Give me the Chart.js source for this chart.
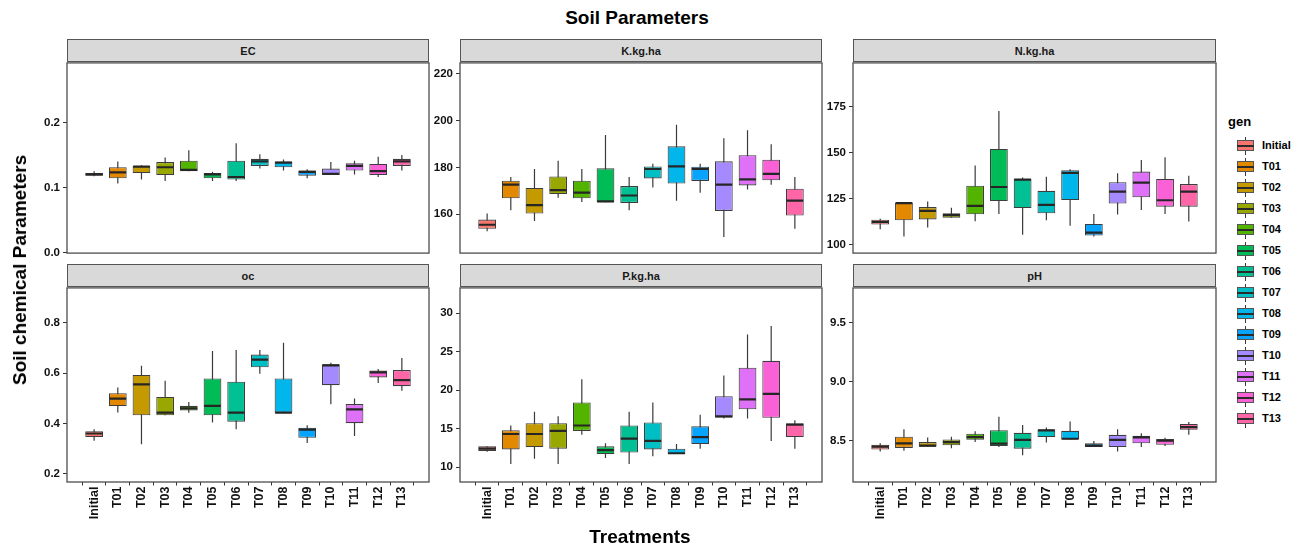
<!DOCTYPE html>
<html><head><meta charset="utf-8">
<script src="https://cdn.jsdelivr.net/npm/chart.js@4.4.0/dist/chart.umd.min.js"></script>
<style>
body{margin:0;background:#fff;}
#wrap{position:relative;width:1303px;height:547px;overflow:hidden;font-family:"Liberation Sans",Arial,sans-serif;background:#fff;}
.strip{position:absolute;background:#d9d9d9;border:1px solid #555;box-sizing:border-box;font-weight:bold;font-size:11px;color:#1a1a1a;display:flex;align-items:center;justify-content:center;z-index:2;}
canvas{position:absolute;z-index:1;}
.txt{position:absolute;font-weight:bold;color:#000;white-space:nowrap;}
.lg{position:absolute;}
</style></head>
<body><div id="wrap"></div>
<script>
const cats = ["Initial","T01","T02","T03","T04","T05","T06","T07","T08","T09","T10","T11","T12","T13"];
const colors = ["#F8766D","#E38900","#C49A00","#99A800","#53B400","#00BC56","#00C094","#00BFC4","#00B6EB","#06A4FF","#A58AFF","#DF70F8","#FB61D7","#FF66A8"];

const EC_lo  = [0.117,0.106,0.112,0.110,0.125,0.110,0.110,0.129,0.126,0.114,0.119,0.120,0.116,0.126];
const EC_q1  = [0.118,0.114,0.122,0.119,0.125,0.114,0.112,0.133,0.131,0.118,0.119,0.126,0.119,0.133];
const EC_med = [0.120,0.123,0.132,0.131,0.127,0.120,0.116,0.140,0.138,0.124,0.121,0.133,0.125,0.140];
const EC_q3  = [0.122,0.131,0.133,0.139,0.141,0.122,0.141,0.144,0.140,0.126,0.129,0.137,0.136,0.144];
const EC_hi  = [0.125,0.140,0.134,0.146,0.157,0.124,0.168,0.151,0.143,0.128,0.139,0.141,0.147,0.150];

const K_lo  = [152.7,161.7,157.1,167.0,165.2,165.1,161.7,171.4,165.8,169.2,150.3,170.5,172.6,153.8];
const K_q1  = [153.8,166.8,160.3,168.6,166.8,165.1,164.8,175.3,173.1,174.2,161.4,172.3,174.5,159.4];
const K_med = [155.5,172.6,163.9,170.3,169.2,165.5,168.0,179.3,180.4,179.3,172.6,174.9,177.2,165.8];
const K_q3  = [157.7,174.3,171.2,176.1,174.3,179.6,172.0,180.4,189.0,180.3,182.6,185.2,183.3,170.9];
const K_hi  = [160.3,175.9,179.3,182.8,179.3,193.8,175.9,181.5,198.2,181.5,192.4,195.9,189.9,175.9];

const N_lo  = [108.3,104.4,109.3,114.6,112.7,116.7,105.3,113.2,110.2,104.4,116.3,118.8,116.7,112.5];
const N_q1  = [110.9,113.2,113.7,114.6,116.5,123.7,119.9,117.0,124.2,104.9,122.3,125.7,120.6,120.6];
const N_med = [112.3,122.5,118.3,116.0,121.1,131.3,135.3,121.6,139.0,106.5,128.8,133.7,124.1,128.8];
const N_q3  = [113.5,122.7,120.4,117.0,132.0,152.0,135.7,129.2,140.4,111.2,133.9,139.7,135.7,132.9];
const N_hi  = [114.1,123.2,123.4,120.0,143.0,172.6,136.5,136.9,140.9,116.7,138.8,146.0,147.4,137.4];

const OC_lo  = [0.331,0.443,0.317,0.432,0.442,0.404,0.377,0.598,0.442,0.322,0.476,0.350,0.561,0.530];
const OC_q1  = [0.346,0.469,0.432,0.432,0.451,0.432,0.407,0.623,0.442,0.343,0.552,0.401,0.583,0.548];
const OC_med = [0.360,0.499,0.555,0.443,0.460,0.470,0.443,0.654,0.443,0.375,0.631,0.456,0.603,0.572];
const OC_q3  = [0.369,0.520,0.593,0.505,0.470,0.579,0.566,0.674,0.579,0.383,0.635,0.477,0.610,0.612];
const OC_hi  = [0.377,0.543,0.629,0.570,0.485,0.688,0.692,0.692,0.721,0.393,0.641,0.499,0.616,0.660];

const P_lo  = [12.0,10.4,11.1,10.4,14.2,11.2,10.4,11.4,11.7,12.4,16.3,16.3,13.4,12.4];
const P_q1  = [12.1,12.3,12.6,12.4,14.7,11.7,11.9,12.3,11.7,13.0,16.4,17.5,16.4,13.9];
const P_med = [12.4,14.3,14.3,14.7,15.4,12.2,13.7,13.4,11.8,13.9,16.6,18.8,19.5,15.5];
const P_q3  = [12.7,14.8,15.7,15.7,18.4,12.7,15.4,15.8,12.4,15.3,19.2,22.9,23.8,15.7];
const P_hi  = [12.7,15.4,17.2,16.6,21.4,13.1,17.2,18.4,13.0,16.8,21.9,27.2,28.3,16.1];

const PH_lo  = [8.408,8.416,8.450,8.436,8.489,8.447,8.377,8.486,8.511,8.447,8.408,8.447,8.455,8.550];
const PH_q1  = [8.425,8.439,8.450,8.461,8.508,8.455,8.433,8.531,8.511,8.447,8.447,8.478,8.466,8.592];
const PH_med = [8.450,8.478,8.458,8.489,8.531,8.475,8.508,8.587,8.517,8.458,8.508,8.528,8.500,8.615];
const PH_q3  = [8.466,8.534,8.489,8.511,8.559,8.589,8.567,8.595,8.584,8.478,8.550,8.542,8.514,8.642];
const PH_hi  = [8.478,8.598,8.528,8.534,8.581,8.704,8.634,8.612,8.662,8.497,8.598,8.564,8.525,8.659];

const EC_ticks = [0.0,0.1,0.2];
const K_ticks = [160,180,200,220];
const N_ticks = [100,125,150,175];
const OC_ticks = [0.2,0.4,0.6,0.8];
const P_ticks = [10,15,20,25,30];
const PH_ticks = [8.5,9.0,9.5];

const panels = [
  {name:'EC', left:67, top:61, w:362, h:196, xaxis:false, min:-0.001, max:0.2915, ticks:EC_ticks, dec:1, d:[EC_lo,EC_q1,EC_med,EC_q3,EC_hi]},
  {name:'K.kg.ha', left:460, top:61, w:362, h:196, xaxis:false, min:143.4, max:224.6, ticks:K_ticks, dec:0, d:[K_lo,K_q1,K_med,K_q3,K_hi]},
  {name:'N.kg.ha', left:853, top:61, w:363, h:196, xaxis:false, min:95.4, max:198.7, ticks:N_ticks, dec:0, d:[N_lo,N_q1,N_med,N_q3,N_hi]},
  {name:'oc', left:67, top:286, w:362, h:196, xaxis:true, min:0.167, max:0.939, ticks:OC_ticks, dec:1, d:[OC_lo,OC_q1,OC_med,OC_q3,OC_hi]},
  {name:'P.kg.ha', left:460, top:286, w:362, h:196, xaxis:true, min:8.07, max:33.26, ticks:P_ticks, dec:0, d:[P_lo,P_q1,P_med,P_q3,P_hi]},
  {name:'pH', left:853, top:286, w:363, h:196, xaxis:true, min:8.151, max:9.793, ticks:PH_ticks, dec:1, d:[PH_lo,PH_q1,PH_med,PH_q3,PH_hi]}
];

const wrap = document.getElementById('wrap');
const YW = 45, PADT = 8, XH = 50;

const boxPlugin = {
  id: 'boxw',
  beforeDatasetsDraw(chart) {
    const ds = chart.data.datasets[0];
    const xs = chart.scales.x, ys = chart.scales.y, ctx = chart.ctx;
    ctx.save();
    ctx.strokeStyle = '#3a3a3a';
    ctx.lineWidth = 1.2;
    ctx.beginPath();
    ds.lo.forEach((v, i) => {
      const x = xs.getPixelForValue(i + 1);
      ctx.moveTo(x, ys.getPixelForValue(ds.hi[i]));
      ctx.lineTo(x, ys.getPixelForValue(v));
    });
    ctx.stroke();
    ctx.restore();
  },
  afterDatasetsDraw(chart) {
    const ds = chart.data.datasets[0];
    const ys = chart.scales.y, ctx = chart.ctx;
    const meta = chart.getDatasetMeta(0);
    ctx.save();
    ctx.strokeStyle = '#262626';
    ctx.lineWidth = 2.2;
    ctx.beginPath();
    meta.data.forEach((el, i) => {
      const y = ys.getPixelForValue(ds.med[i]);
      ctx.moveTo(el.x - el.width / 2 + 0.5, y);
      ctx.lineTo(el.x + el.width / 2 - 0.5, y);
    });
    ctx.stroke();
    ctx.restore();
  },
  afterDraw(chart) {
    const a = chart.chartArea, ctx = chart.ctx;
    ctx.save();
    ctx.strokeStyle = '#4d4d4d';
    ctx.lineWidth = 1.3;
    ctx.strokeRect(a.left, a.top, a.right - a.left, a.bottom - a.top);
    ctx.restore();
  }
};

panels.forEach(p => {
  const cv = document.createElement('canvas');
  const cw = p.w + YW + 6;
  const ch = p.h + PADT + (p.xaxis ? XH : 6);
  cv.width = cw; cv.height = ch;
  cv.style.width = cw + 'px'; cv.style.height = ch + 'px';
  cv.style.left = (p.left - YW) + 'px';
  cv.style.top = (p.top - PADT) + 'px';
  wrap.appendChild(cv);

  const st = document.createElement('div');
  st.className = 'strip';
  st.style.left = p.left + 'px';
  st.style.top = (p.top - 22) + 'px';
  st.style.width = p.w + 'px';
  st.style.height = '23px';
  st.textContent = p.name;
  wrap.appendChild(st);

  const [lo, q1, med, q3, hi] = p.d;
  new Chart(cv, {
    type: 'bar',
    data: {
      datasets: [{
        data: cats.map((c, i) => ({x: i + 1, y: [q1[i], q3[i]]})),
        lo: lo, hi: hi, med: med,
        backgroundColor: colors,
        borderColor: '#3d3d3d',
        borderWidth: 1.1,
        borderSkipped: false,
        categoryPercentage: 1,
        barPercentage: 0.75
      }]
    },
    options: {
      responsive: false,
      animation: false,
      devicePixelRatio: 1,
      layout: {padding: {top: PADT, right: 6, left: 0, bottom: p.xaxis ? 0 : 6}},
      plugins: {legend: {display: false}, tooltip: {enabled: false}},
      scales: {
        x: {
          type: 'linear',
          display: p.xaxis,
          min: 0.4, max: 14.6,
          afterBuildTicks: s => { s.ticks = cats.map((c, i) => ({value: i + 1})); },
          afterFit: s => { s.height = p.xaxis ? XH : 0; },
          grid: {drawOnChartArea: false, drawTicks: true, tickLength: 3.5, color: '#333', lineWidth: 1},
          border: {display: false},
          ticks: {
            autoSkip: false, minRotation: 90, maxRotation: 90, padding: 1,
            color: '#111', font: {family: '"Liberation Sans", Arial, sans-serif', size: 12.5, weight: 'bold'},
            callback: v => cats[Math.round(v) - 1]
          }
        },
        y: {
          type: 'linear',
          min: p.min, max: p.max,
          afterBuildTicks: s => { s.ticks = p.ticks.map(v => ({value: v})); },
          afterFit: s => { s.width = YW; },
          grid: {drawOnChartArea: false, drawTicks: true, tickLength: 4, color: '#333', lineWidth: 1},
          border: {display: false},
          ticks: {
            padding: 3,
            color: '#111', font: {family: '"Liberation Sans", Arial, sans-serif', size: 11.5, weight: 'bold'},
            callback: v => Number(v).toFixed(p.dec)
          }
        }
      }
    },
    plugins: [boxPlugin]
  });
});

function addText(txt, css) {
  const d = document.createElement('div');
  d.className = 'txt';
  d.textContent = txt;
  Object.assign(d.style, css);
  wrap.appendChild(d);
  return d;
}
addText('Soil Parameters', {left: '637px', top: '7px', fontSize: '19px', transform: 'translateX(-50%)', zIndex: 3});
addText('Treatments', {left: '640px', top: '526px', fontSize: '19px', transform: 'translateX(-50%)', zIndex: 3});
addText('Soil chemical Parameters', {left: '20px', top: '270px', fontSize: '19px', transform: 'translate(-50%,-50%) rotate(-90deg)', zIndex: 3});

// legend
addText('gen', {left: '1228px', top: '114px', fontSize: '13px'});
cats.forEach((c, i) => {
  const cy = 145.7 + 21 * i;
  const wh = document.createElement('div');
  wh.className = 'lg';
  Object.assign(wh.style, {left: '1245px', top: (cy - 9) + 'px', width: '1px', height: '18px', background: '#3a3a3a'});
  wrap.appendChild(wh);
  const bx = document.createElement('div');
  bx.className = 'lg';
  Object.assign(bx.style, {left: '1237px', top: (cy - 5.5) + 'px', width: '17px', height: '11px', background: colors[i], border: '1px solid #555', boxSizing: 'border-box'});
  wrap.appendChild(bx);
  const md = document.createElement('div');
  md.className = 'lg';
  Object.assign(md.style, {left: '1237px', top: (cy - 1) + 'px', width: '17px', height: '2px', background: '#2b2b2b'});
  wrap.appendChild(md);
  addText(c, {left: '1262px', top: (cy - 7) + 'px', fontSize: '11px'});
});
</script>
</body></html>
